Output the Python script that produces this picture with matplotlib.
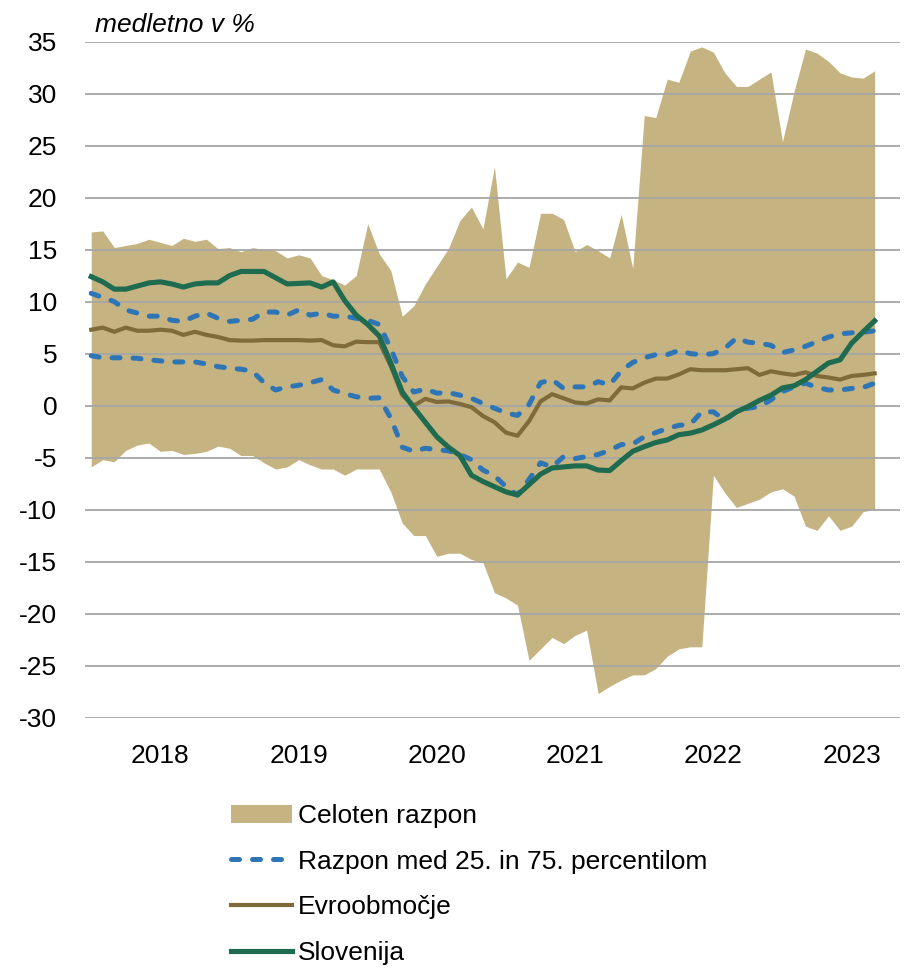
import matplotlib
matplotlib.use("Agg")
import matplotlib.pyplot as plt
from matplotlib.patches import Patch
from matplotlib.lines import Line2D
import numpy as np

plt.rcParams['font.family'] = ['Liberation Sans', 'DejaVu Sans']
plt.rcParams['axes.unicode_minus'] = False

# Monthly data, Jan 2018 - Sep 2023 (69 months)
range_max = [16.7, 16.8, 15.2, 15.4, 15.6, 16.0, 15.7, 15.4, 16.1, 15.8, 16.0, 15.1,
             15.2, 14.8, 15.2, 15.0, 14.9, 14.2, 14.5, 14.2, 12.5, 12.1, 11.6, 12.5,
             17.5, 14.6, 13.0, 8.6, 9.6, 11.7, 13.4, 15.1, 17.8, 19.1, 17.0, 23.0,
             12.2, 13.8, 13.3, 18.5, 18.5, 17.9, 14.8, 15.5, 14.9, 14.2, 18.4, 13.2,
             27.9, 27.7, 31.4, 31.1, 34.1, 34.5, 34.0, 32.0, 30.7, 30.7, 31.4, 32.1,
             25.4, 30.2, 34.3, 33.9, 33.1, 32.0, 31.6, 31.5, 32.2]
range_min = [-5.9, -5.2, -5.4, -4.3, -3.8, -3.6, -4.4, -4.3, -4.7, -4.6, -4.4, -3.9,
             -4.1, -4.8, -4.8, -5.5, -6.1, -5.9, -5.2, -5.7, -6.1, -6.1, -6.7, -6.1,
             -6.1, -6.1, -8.3, -11.3, -12.5, -12.5, -14.5, -14.2, -14.2, -14.8, -15.1, -18.0,
             -18.5, -19.2, -24.5, -23.4, -22.3, -22.9, -22.1, -21.6, -27.7, -27.0, -26.4, -25.9,
             -25.9, -25.3, -24.1, -23.4, -23.2, -23.2, -6.7, -8.4, -9.8, -9.4, -9.0, -8.3,
             -8.0, -8.7, -11.6, -12.0, -10.6, -12.0, -11.6, -10.2, -10.0]
p75 = [10.8, 10.4, 10.0, 9.2, 8.9, 8.6, 8.6, 8.2, 8.1, 8.6, 8.9, 8.4,
       8.1, 8.2, 8.3, 9.0, 9.0, 8.7, 9.2, 8.7, 8.9, 8.6, 8.6, 8.4,
       8.2, 7.8, 5.5, 2.8, 1.3, 1.6, 1.2, 1.25, 1.0, 0.7, 0.2, -0.25,
       -0.7, -0.95, 0.1, 2.2, 2.5, 1.65, 1.8, 1.8, 2.3, 2.0, 3.35, 4.15,
       4.6, 4.9, 4.9, 5.3, 5.0, 4.9, 5.0, 5.5, 6.5, 6.1, 6.0, 5.8,
       5.1, 5.35, 5.7, 6.15, 6.6, 6.9, 7.0, 7.05, 7.2]
p25 = [4.8, 4.6, 4.6, 4.6, 4.55, 4.4, 4.3, 4.2, 4.2, 4.2, 4.0, 3.75,
       3.6, 3.5, 3.3, 2.2, 1.5, 1.8, 1.95, 2.2, 2.5, 1.5, 1.15, 0.85,
       0.7, 0.75, -1.2, -4.0, -4.4, -4.1, -4.25, -4.35, -4.7, -5.2, -6.2, -6.75,
       -7.8, -8.6, -7.1, -5.5, -5.9, -4.9, -5.1, -4.9, -4.7, -4.3, -3.75, -3.7,
       -3.0, -2.6, -2.2, -1.9, -1.8, -0.6, -0.6, -1.4, -0.6, -0.25, -0.1, 0.55,
       1.35, 1.8, 2.15, 1.75, 1.5, 1.5, 1.65, 1.75, 2.15]
euro_area = [7.3, 7.5, 7.1, 7.5, 7.2, 7.2, 7.3, 7.2, 6.8, 7.1, 6.8, 6.6,
             6.3, 6.25, 6.25, 6.3, 6.3, 6.3, 6.3, 6.25, 6.3, 5.8, 5.7, 6.15,
             6.1, 6.1, 3.8, 1.0, 0.0, 0.65, 0.35, 0.4, 0.15, -0.15, -1.0, -1.6,
             -2.6, -2.9, -1.5, 0.4, 1.1, 0.7, 0.3, 0.2, 0.6, 0.5, 1.75, 1.65,
             2.2, 2.6, 2.6, 3.0, 3.5, 3.4, 3.4, 3.4, 3.5, 3.6, 2.95, 3.3,
             3.1, 2.95, 3.2, 2.85, 2.7, 2.5, 2.85, 2.95, 3.1]
slovenia = [12.4, 11.9, 11.2, 11.2, 11.5, 11.8, 11.9, 11.7, 11.4, 11.7, 11.8, 11.8,
            12.5, 12.9, 12.9, 12.9, 12.3, 11.7, 11.75, 11.8, 11.4, 11.9, 10.1, 8.7,
            7.8, 6.7, 4.1, 1.3, -0.2, -1.6, -3.0, -4.0, -4.8, -6.7, -7.3, -7.8,
            -8.3, -8.6, -7.6, -6.6, -6.0, -5.9, -5.8, -5.8, -6.2, -6.25, -5.3, -4.4,
            -3.95, -3.55, -3.3, -2.8, -2.65, -2.35, -1.85, -1.3, -0.6, -0.1, 0.5, 1.0,
            1.7, 1.9, 2.5, 3.3, 4.1, 4.4, 6.0, 7.1, 8.15]
year_labels = ['2018', '2019', '2020', '2021', '2022', '2023']
legend_labels = ['Celoten razpon', 'Razpon med 25. in 75. percentilom', 'Evroobmočje', 'Slovenija']
y_title = 'medletno v %'

c_fill = '#C5B382'
c_blue = '#2E75B6'
c_brown = '#7F6A3A'
c_green = '#1E6B4F'

FS = 19
W, H = 906, 972
fig = plt.figure(figsize=(W / 100, H / 100), dpi=100)
ax = fig.add_axes([85 / W, 1 - 717.5 / H, (900 - 85) / W, (717.5 - 41.7) / H])

x = np.arange(len(slovenia))
ax.fill_between(x, range_min, range_max, color=c_fill, lw=0, zorder=1)
dash = dict(dashes=(1.6, 2.6), dash_capstyle='round')
ax.plot(x, p75, color=c_blue, lw=3.6, zorder=3, **dash)
ax.plot(x, p25, color=c_blue, lw=3.6, zorder=3, **dash)
ax.plot(x, euro_area, color=c_brown, lw=3.0, zorder=4, solid_joinstyle='round')
ax.plot(x, slovenia, color=c_green, lw=3.7, zorder=5, solid_joinstyle='round')

ax.set_xlim(-0.54, 70.2)
ax.set_ylim(-30, 35)
ax.set_yticks(np.arange(-30, 36, 5))
ax.set_yticklabels([str(v) for v in range(-30, 36, 5)])
ax.set_xticks([6 + 12 * k for k in range(len(year_labels))])
ax.set_xticklabels(year_labels)
ax.tick_params(axis='both', length=0, labelsize=FS)
ax.tick_params(axis='y', pad=20)
ax.tick_params(axis='x', pad=19)
ax.set_axisbelow(False)
ax.yaxis.grid(True, color='#a6a6a6', lw=1.3, zorder=2.5)
ax.xaxis.grid(False)
for s in ax.spines.values():
    s.set_visible(False)

fig.text(95 / W, 1 - 32 / H, y_title, fontsize=FS, style='italic', va='baseline', ha='left')

handles = [Patch(facecolor=c_fill, edgecolor='none'),
           Line2D([], [], color=c_blue, lw=3.6, **dash),
           Line2D([], [], color=c_brown, lw=3.0),
           Line2D([], [], color=c_green, lw=3.7)]
fig.legend(handles, legend_labels, loc='upper left', bbox_to_anchor=(231 / W, 1 - 804 / H),
           frameon=False, fontsize=FS, handlelength=2.3, handletextpad=0.25,
           labelspacing=0.82, borderpad=0, borderaxespad=0)

fig.savefig('out.png', dpi=100)
